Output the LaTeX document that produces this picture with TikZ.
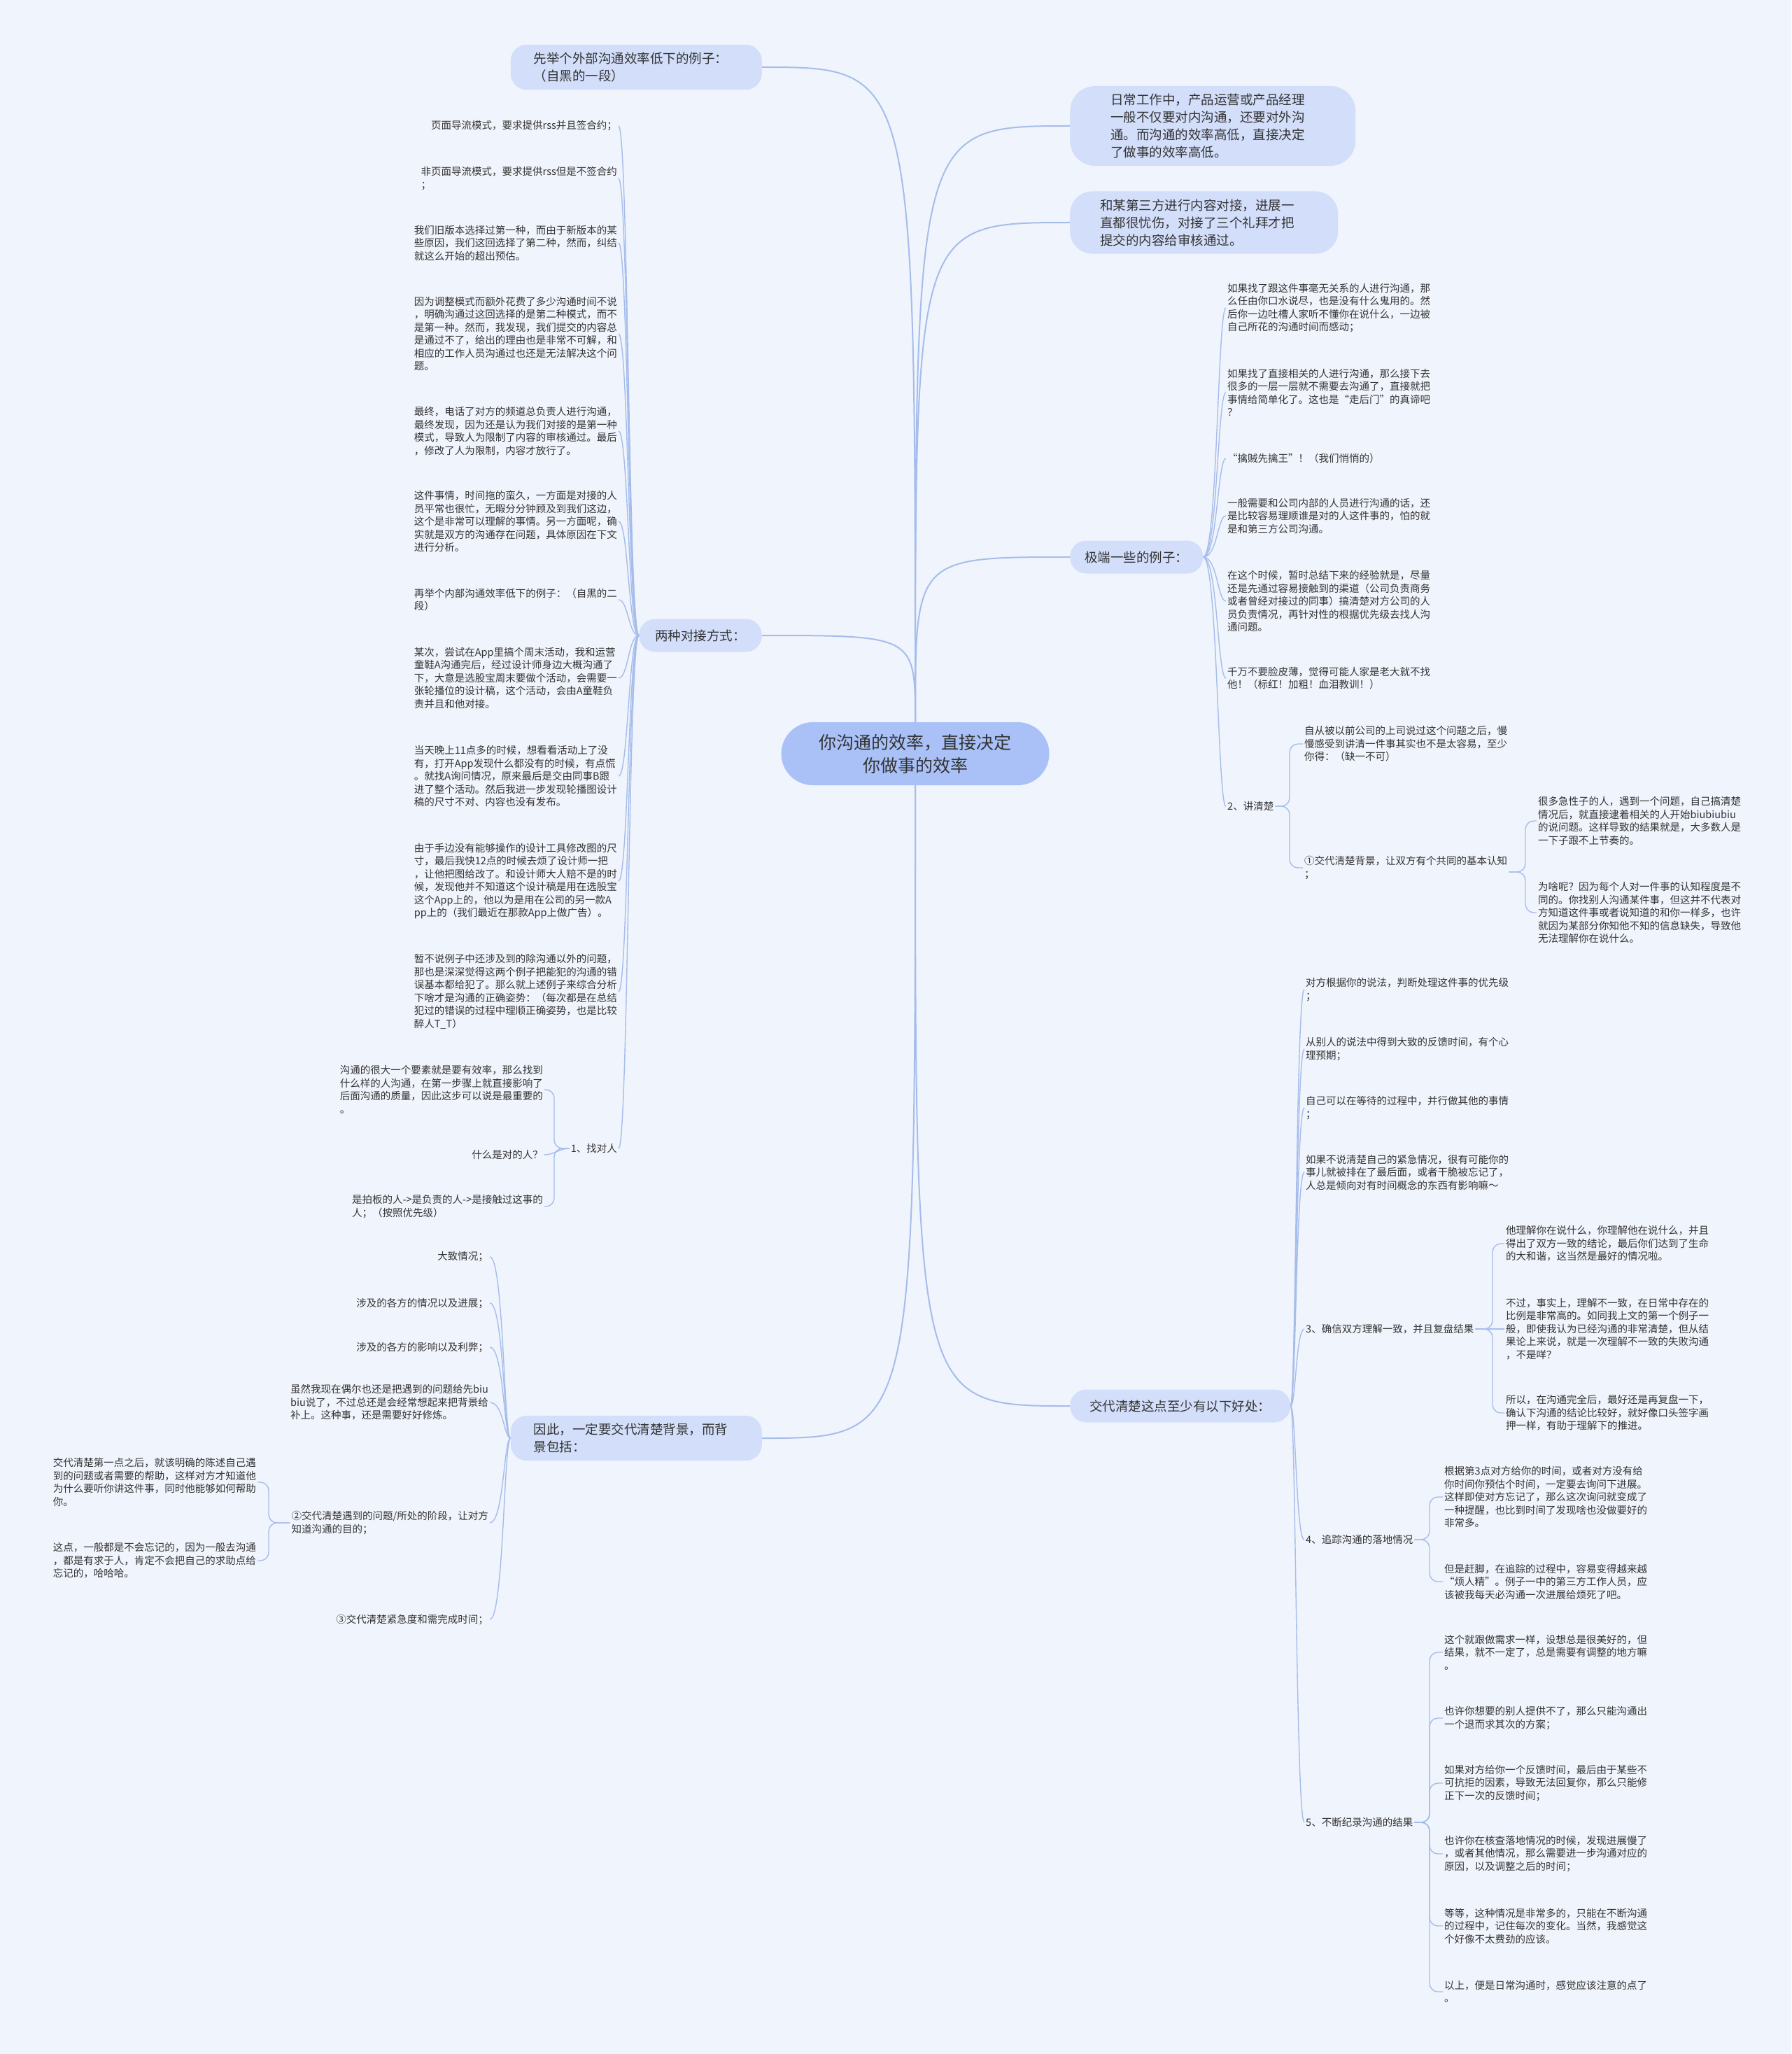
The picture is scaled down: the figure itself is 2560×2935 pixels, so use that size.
\documentclass[tikz,border=0pt]{standalone}
\usepackage{fontspec}
\setmainfont{Noto Sans CJK SC}
\definecolor{paper}{HTML}{F0F4FC}
\definecolor{corefill}{HTML}{A9C1F7}
\definecolor{topicfill}{HTML}{D2DEFA}
\definecolor{linkblue}{HTML}{A6BDEC}
\definecolor{ink}{HTML}{333333}

\begin{document}
\begin{tikzpicture}[x=1pt, y=-1pt,
  core/.style={fill=corefill, rounded corners=45pt, minimum width=383pt, minimum height=90pt,
    align=center, text=ink, font=\fontsize{25pt}{33pt}\selectfont},
  topic/.style={fill=topicfill, rounded corners=23pt, minimum height=47pt, inner ysep=11pt,
    align=left, text=ink, font=\fontsize{18.5pt}{25pt}\selectfont},
  leaf/.style={align=left, inner sep=2pt, text=ink, font=\fontsize{14.5pt}{18.5pt}\selectfont},
  trunk/.style={draw=linkblue, line width=2pt},
  twig/.style={draw=linkblue, line width=1.4pt},
  bracket/.style={twig, rounded corners=12pt}]
% Background
\fill[paper] (0,0) rectangle (2560,2935);

% Root and main topics
\node[core] (core) at (1308,1077) {你沟通的效率，直接决定\\你做事的效率};
\node[topic, anchor=east, text width=293pt, inner xsep=33pt] (ext) at (1089,96) {先举个外部沟通效率低下的例子：\\（自黑的一段）};
\node[topic, anchor=east, inner xsep=23pt] (pair) at (1089,908) {两种对接方式：};
\node[topic, anchor=east, text width=293pt, inner xsep=33pt] (bg) at (1089,2055) {因此，一定要交代清楚背景，而背\\景包括：};
\node[topic, anchor=west, text width=292pt, inner xsep=58pt, rounded corners=36pt] (daily) at (1529,180) {日常工作中，产品运营或产品经理\\一般不仅要对内沟通，还要对外沟\\通。而沟通的效率高低，直接决定\\了做事的效率高低。};
\node[topic, anchor=west, text width=297pt, inner xsep=43pt, rounded corners=32pt] (third) at (1529,318) {和某第三方进行内容对接，进展一\\直都很忧伤，对接了三个礼拜才把\\提交的内容给审核通过。};
\node[topic, anchor=west, inner xsep=21pt] (extreme) at (1529,796) {极端一些的例子：};
\node[topic, anchor=west, inner xsep=28pt] (gain) at (1529,2009) {交代清楚这点至少有以下好处：};

\draw[trunk] (core.north) .. controls (core.north |- ext.east) .. (ext.east);
\draw[trunk] (core.north) .. controls (core.north |- pair.east) .. (pair.east);
\draw[trunk] (core.south) .. controls (core.south |- bg.east) .. (bg.east);
\draw[trunk] (core.north) .. controls (core.north |- daily.west) .. (daily.west);
\draw[trunk] (core.north) .. controls (core.north |- third.west) .. (third.west);
\draw[trunk] (core.north) .. controls (core.north |- extreme.west) .. (extreme.west);
\draw[trunk] (core.south) .. controls (core.south |- gain.west) .. (gain.west);

% Two ways of docking
\coordinate (tPair) at (898,0);
\node[leaf, anchor=east] (p1) at (884,180) {页面导流模式，要求提供rss并且签合约；};
\node[leaf, anchor=east] (p2) at (884,255) {非页面导流模式，要求提供rss但是不签合约\\；};
\node[leaf, anchor=east] (p3) at (884,347) {我们旧版本选择过第一种，而由于新版本的某\\些原因，我们这回选择了第二种，然而，纠结\\就这么开始的超出预估。};
\node[leaf, anchor=east] (p4) at (884,477) {因为调整模式而额外花费了多少沟通时间不说\\，明确沟通过这回选择的是第二种模式，而不\\是第一种。然而，我发现，我们提交的内容总\\是通过不了，给出的理由也是非常不可解，和\\相应的工作人员沟通过也还是无法解决这个问\\题。};
\node[leaf, anchor=east] (p5) at (884,616) {最终，电话了对方的频道总负责人进行沟通，\\最终发现，因为还是认为我们对接的是第一种\\模式，导致人为限制了内容的审核通过。最后\\，修改了人为限制，内容才放行了。};
\node[leaf, anchor=east] (p6) at (884,745) {这件事情，时间拖的蛮久，一方面是对接的人\\员平常也很忙，无暇分分钟顾及到我们这边，\\这个是非常可以理解的事情。另一方面呢，确\\实就是双方的沟通存在问题，具体原因在下文\\进行分析。};
\node[leaf, anchor=east] (p7) at (884,857) {再举个内部沟通效率低下的例子：（自黑的二\\段）};
\node[leaf, anchor=east] (p8) at (884,969) {某次，尝试在App里搞个周末活动，我和运营\\童鞋A沟通完后，经过设计师身边大概沟通了\\下，大意是选股宝周末要做个活动，会需要一\\张轮播位的设计稿，这个活动，会由A童鞋负\\责并且和他对接。};
\node[leaf, anchor=east] (p9) at (884,1109) {当天晚上11点多的时候，想看看活动上了没\\有，打开App发现什么都没有的时候，有点慌\\。就找A询问情况，原来最后是交由同事B跟\\进了整个活动。然后我进一步发现轮播图设计\\稿的尺寸不对、内容也没有发布。};
\node[leaf, anchor=east] (p10) at (884,1259) {由于手边没有能够操作的设计工具修改图的尺\\寸，最后我快12点的时候去烦了设计师一把\\，让他把图给改了。和设计师大人赔不是的时\\候，发现他并不知道这个设计稿是用在选股宝\\这个App上的，他以为是用在公司的另一款A\\pp上的（我们最近在那款App上做广告）。};
\node[leaf, anchor=east] (p11) at (884,1417) {暂不说例子中还涉及到的除沟通以外的问题，\\那也是深深觉得这两个例子把能犯的沟通的错\\误基本都给犯了。那么就上述例子来综合分析\\下啥才是沟通的正确姿势：（每次都是在总结\\犯过的错误的过程中理顺正确姿势，也是比较\\醉人T\_T）};
\node[leaf, anchor=east] (find) at (884,1641) {1、找对人};
\draw[twig] (pair.west) .. controls (pair.west -| tPair) and (p1.east -| tPair) .. (p1.east);
\draw[twig] (pair.west) .. controls (pair.west -| tPair) and (p2.east -| tPair) .. (p2.east);
\draw[twig] (pair.west) .. controls (pair.west -| tPair) and (p3.east -| tPair) .. (p3.east);
\draw[twig] (pair.west) .. controls (pair.west -| tPair) and (p4.east -| tPair) .. (p4.east);
\draw[twig] (pair.west) .. controls (pair.west -| tPair) and (p5.east -| tPair) .. (p5.east);
\draw[twig] (pair.west) .. controls (pair.west -| tPair) and (p6.east -| tPair) .. (p6.east);
\draw[twig] (pair.west) .. controls (pair.west -| tPair) and (p7.east -| tPair) .. (p7.east);
\draw[twig] (pair.west) .. controls (pair.west -| tPair) and (p8.east -| tPair) .. (p8.east);
\draw[twig] (pair.west) .. controls (pair.west -| tPair) and (p9.east -| tPair) .. (p9.east);
\draw[twig] (pair.west) .. controls (pair.west -| tPair) and (p10.east -| tPair) .. (p10.east);
\draw[twig] (pair.west) .. controls (pair.west -| tPair) and (p11.east -| tPair) .. (p11.east);
\draw[twig] (pair.west) .. controls (pair.west -| tPair) and (find.east -| tPair) .. (find.east);

% Find the right person
\coordinate (tFind) at (792,0);
\node[leaf, anchor=east] (f1) at (778,1557) {沟通的很大一个要素就是要有效率，那么找到\\什么样的人沟通，在第一步骤上就直接影响了\\后面沟通的质量，因此这步可以说是最重要的\\。};
\node[leaf, anchor=east] (f2) at (778,1650) {什么是对的人？};
\node[leaf, anchor=east] (f3) at (778,1724) {是拍板的人->是负责的人->是接触过这事的\\人；（按照优先级）};
\draw[bracket] (find.west) -- (find.west -| tFind) |- (f1.east);
\draw[twig] (find.west) to[out=180, in=0] (f2.east);
\draw[bracket] (find.west) -- (find.west -| tFind) |- (f3.east);

% Background
\coordinate (tBg) at (720,0);
\node[leaf, anchor=east] (b1) at (700,1796) {大致情况；};
\node[leaf, anchor=east] (b2) at (700,1862) {涉及的各方的情况以及进展；};
\node[leaf, anchor=east] (b3) at (700,1925) {涉及的各方的影响以及利弊；};
\node[leaf, anchor=east] (b4) at (700,2004) {虽然我现在偶尔也还是把遇到的问题给先biu\\biu说了，不过总还是会经常想起来把背景给\\补上。这种事，还是需要好好修炼。};
\node[leaf, anchor=east] (q2) at (700,2176) {②交代清楚遇到的问题/所处的阶段，让对方\\知道沟通的目的；};
\node[leaf, anchor=east] (q3) at (700,2314) {③交代清楚紧急度和需完成时间；};
\draw[twig] (bg.west) .. controls (bg.west -| tBg) and (b1.east -| tBg) .. (b1.east);
\draw[twig] (bg.west) .. controls (bg.west -| tBg) and (b2.east -| tBg) .. (b2.east);
\draw[twig] (bg.west) .. controls (bg.west -| tBg) and (b3.east -| tBg) .. (b3.east);
\draw[twig] (bg.west) .. controls (bg.west -| tBg) and (b4.east -| tBg) .. (b4.east);
\draw[twig] (bg.west) .. controls (bg.west -| tBg) and (q2.east -| tBg) .. (q2.east);
\draw[twig] (bg.west) .. controls (bg.west -| tBg) and (q3.east -| tBg) .. (q3.east);

\coordinate (tQ2) at (384,0);
\node[leaf, anchor=east] (q2a) at (368,2118) {交代清楚第一点之后，就该明确的陈述自己遇\\到的问题或者需要的帮助，这样对方才知道他\\为什么要听你讲这件事，同时他能够如何帮助\\你。};
\node[leaf, anchor=east] (q2b) at (368,2230) {这点，一般都是不会忘记的，因为一般去沟通\\，都是有求于人，肯定不会把自己的求助点给\\忘记的，哈哈哈。};
\draw[bracket] (q2.west) -- (q2.west -| tQ2) |- (q2a.east);
\draw[bracket] (q2.west) -- (q2.west -| tQ2) |- (q2b.east);

% Extreme examples
\coordinate (tEx) at (1740,0);
\node[leaf, anchor=west] (e1) at (1752,440) {如果找了跟这件事毫无关系的人进行沟通，那\\么任由你口水说尽，也是没有什么鬼用的。然\\后你一边吐槽人家听不懂你在说什么，一边被\\自己所花的沟通时间而感动；};
\node[leaf, anchor=west] (e2) at (1752,561) {如果找了直接相关的人进行沟通，那么接下去\\很多的一层一层就不需要去沟通了，直接就把\\事情给简单化了。这也是“走后门”的真谛吧\\？};
\node[leaf, anchor=west] (e3) at (1752,655) {“擒贼先擒王”！（我们悄悄的）};
\node[leaf, anchor=west] (e4) at (1752,737) {一般需要和公司内部的人员进行沟通的话，还\\是比较容易理顺谁是对的人这件事的，怕的就\\是和第三方公司沟通。};
\node[leaf, anchor=west] (e5) at (1752,859) {在这个时候，暂时总结下来的经验就是，尽量\\还是先通过容易接触到的渠道（公司负责商务\\或者曾经对接过的同事）搞清楚对方公司的人\\员负责情况，再针对性的根据优先级去找人沟\\通问题。};
\node[leaf, anchor=west] (e6) at (1752,969) {千万不要脸皮薄，觉得可能人家是老大就不找\\他！（标红！加粗！血泪教训！）};
\node[leaf, anchor=west] (clear) at (1752,1152) {2、讲清楚};
\draw[twig] (extreme.east) .. controls (extreme.east -| tEx) and (e1.west -| tEx) .. (e1.west);
\draw[twig] (extreme.east) .. controls (extreme.east -| tEx) and (e2.west -| tEx) .. (e2.west);
\draw[twig] (extreme.east) .. controls (extreme.east -| tEx) and (e3.west -| tEx) .. (e3.west);
\draw[twig] (extreme.east) .. controls (extreme.east -| tEx) and (e4.west -| tEx) .. (e4.west);
\draw[twig] (extreme.east) .. controls (extreme.east -| tEx) and (e5.west -| tEx) .. (e5.west);
\draw[twig] (extreme.east) .. controls (extreme.east -| tEx) and (e6.west -| tEx) .. (e6.west);
\draw[twig] (extreme.east) .. controls (extreme.east -| tEx) and (clear.west -| tEx) .. (clear.west);

% Speak clearly
\coordinate (tClear) at (1843,0);
\node[leaf, anchor=west] (c1) at (1862,1063) {自从被以前公司的上司说过这个问题之后，慢\\慢感受到讲清一件事其实也不是太容易，至少\\你得：（缺一不可）};
\node[leaf, anchor=west] (q1) at (1862,1240) {①交代清楚背景，让双方有个共同的基本认知\\；};
\draw[bracket] (clear.east) -- (clear.east -| tClear) |- (c1.west);
\draw[bracket] (clear.east) -- (clear.east -| tClear) |- (q1.west);

\coordinate (tQ1) at (2180,0);
\node[leaf, anchor=west] (q1a) at (2196,1173) {很多急性子的人，遇到一个问题，自己搞清楚\\情况后，就直接逮着相关的人开始biubiubiu\\的说问题。这样导致的结果就是，大多数人是\\一下子跟不上节奏的。};
\node[leaf, anchor=west] (q1b) at (2196,1304) {为啥呢？因为每个人对一件事的认知程度是不\\同的。你找别人沟通某件事，但这并不代表对\\方知道这件事或者说知道的和你一样多，也许\\就因为某部分你知他不知的信息缺失，导致他\\无法理解你在说什么。};
\draw[bracket] ([yshift=-6pt]q1.east) -- ([yshift=-6pt]q1.east -| tQ1) |- (q1a.west);
\draw[bracket] ([yshift=-6pt]q1.east) -- ([yshift=-6pt]q1.east -| tQ1) |- (q1b.west);

% Benefits
\coordinate (tGain) at (1852,0);
\node[leaf, anchor=west] (g1) at (1864,1414) {对方根据你的说法，判断处理这件事的优先级\\；};
\node[leaf, anchor=west] (g2) at (1864,1499) {从别人的说法中得到大致的反馈时间，有个心\\理预期；};
\node[leaf, anchor=west] (g3) at (1864,1583) {自己可以在等待的过程中，并行做其他的事情\\；};
\node[leaf, anchor=west] (g4) at (1864,1675) {如果不说清楚自己的紧急情况，很有可能你的\\事儿就被排在了最后面，或者干脆被忘记了，\\人总是倾向对有时间概念的东西有影响嘛～};
\node[leaf, anchor=west] (confirm) at (1864,1899) {3、确信双方理解一致，并且复盘结果};
\node[leaf, anchor=west] (track) at (1864,2200) {4、追踪沟通的落地情况};
\node[leaf, anchor=west] (record) at (1864,2604) {5、不断纪录沟通的结果};
\draw[twig] (gain.east) .. controls (gain.east -| tGain) and (g1.west -| tGain) .. (g1.west);
\draw[twig] (gain.east) .. controls (gain.east -| tGain) and (g2.west -| tGain) .. (g2.west);
\draw[twig] (gain.east) .. controls (gain.east -| tGain) and (g3.west -| tGain) .. (g3.west);
\draw[twig] (gain.east) .. controls (gain.east -| tGain) and (g4.west -| tGain) .. (g4.west);
\draw[twig] (gain.east) .. controls (gain.east -| tGain) and (confirm.west -| tGain) .. (confirm.west);
\draw[twig] (gain.east) .. controls (gain.east -| tGain) and (track.west -| tGain) .. (track.west);
\draw[twig] (gain.east) .. controls (gain.east -| tGain) and (record.west -| tGain) .. (record.west);

\coordinate (tConfirm) at (2133,0);
\node[leaf, anchor=west] (k1) at (2150,1777) {他理解你在说什么，你理解他在说什么，并且\\得出了双方一致的结论，最后你们达到了生命\\的大和谐，这当然是最好的情况啦。};
\node[leaf, anchor=west] (k2) at (2150,1899) {不过，事实上，理解不一致，在日常中存在的\\比例是非常高的。如同我上文的第一个例子一\\般，即使我认为已经沟通的非常清楚，但从结\\果论上来说，就是一次理解不一致的失败沟通\\，不是咩？};
\node[leaf, anchor=west] (k3) at (2150,2019) {所以，在沟通完全后，最好还是再复盘一下，\\确认下沟通的结论比较好，就好像口头签字画\\押一样，有助于理解下的推进。};
\draw[bracket] (confirm.east) -- (confirm.east -| tConfirm) |- (k1.west);
\draw[twig] (confirm.east) -- (k2.west);
\draw[bracket] (confirm.east) -- (confirm.east -| tConfirm) |- (k3.west);

\coordinate (tTrack) at (2043,0);
\node[leaf, anchor=west] (t1) at (2062,2139) {根据第3点对方给你的时间，或者对方没有给\\你时间你预估个时间，一定要去询问下进展。\\这样即使对方忘记了，那么这次询问就变成了\\一种提醒，也比到时间了发现啥也没做要好的\\非常多。};
\node[leaf, anchor=west] (t2) at (2062,2260) {但是赶脚，在追踪的过程中，容易变得越来越\\“烦人精”。例子一中的第三方工作人员，应\\该被我每天必沟通一次进展给烦死了吧。};
\draw[bracket] (track.east) -- (track.east -| tTrack) |- (t1.west);
\draw[bracket] (track.east) -- (track.east -| tTrack) |- (t2.west);

\node[leaf, anchor=west] (r1) at (2062,2361) {这个就跟做需求一样，设想总是很美好的，但\\结果，就不一定了，总是需要有调整的地方嘛\\。};
\node[leaf, anchor=west] (r2) at (2062,2455) {也许你想要的别人提供不了，那么只能沟通出\\一个退而求其次的方案；};
\node[leaf, anchor=west] (r3) at (2062,2548) {如果对方给你一个反馈时间，最后由于某些不\\可抗拒的因素，导致无法回复你，那么只能修\\正下一次的反馈时间；};
\node[leaf, anchor=west] (r4) at (2062,2649) {也许你在核查落地情况的时候，发现进展慢了\\，或者其他情况，那么需要进一步沟通对应的\\原因，以及调整之后的时间；};
\node[leaf, anchor=west] (r5) at (2062,2752) {等等，这种情况是非常多的，只能在不断沟通\\的过程中，记住每次的变化。当然，我感觉这\\个好像不太费劲的应该。};
\node[leaf, anchor=west] (r6) at (2062,2846) {以上，便是日常沟通时，感觉应该注意的点了\\。};
\draw[bracket] (record.east) -- (record.east -| tTrack) |- (r1.west);
\draw[bracket] (record.east) -- (record.east -| tTrack) |- (r2.west);
\draw[bracket] (record.east) -- (record.east -| tTrack) |- (r3.west);
\draw[bracket] (record.east) -- (record.east -| tTrack) |- (r4.west);
\draw[bracket] (record.east) -- (record.east -| tTrack) |- (r5.west);
\draw[bracket] (record.east) -- (record.east -| tTrack) |- (r6.west);
\end{tikzpicture}
\end{document}
